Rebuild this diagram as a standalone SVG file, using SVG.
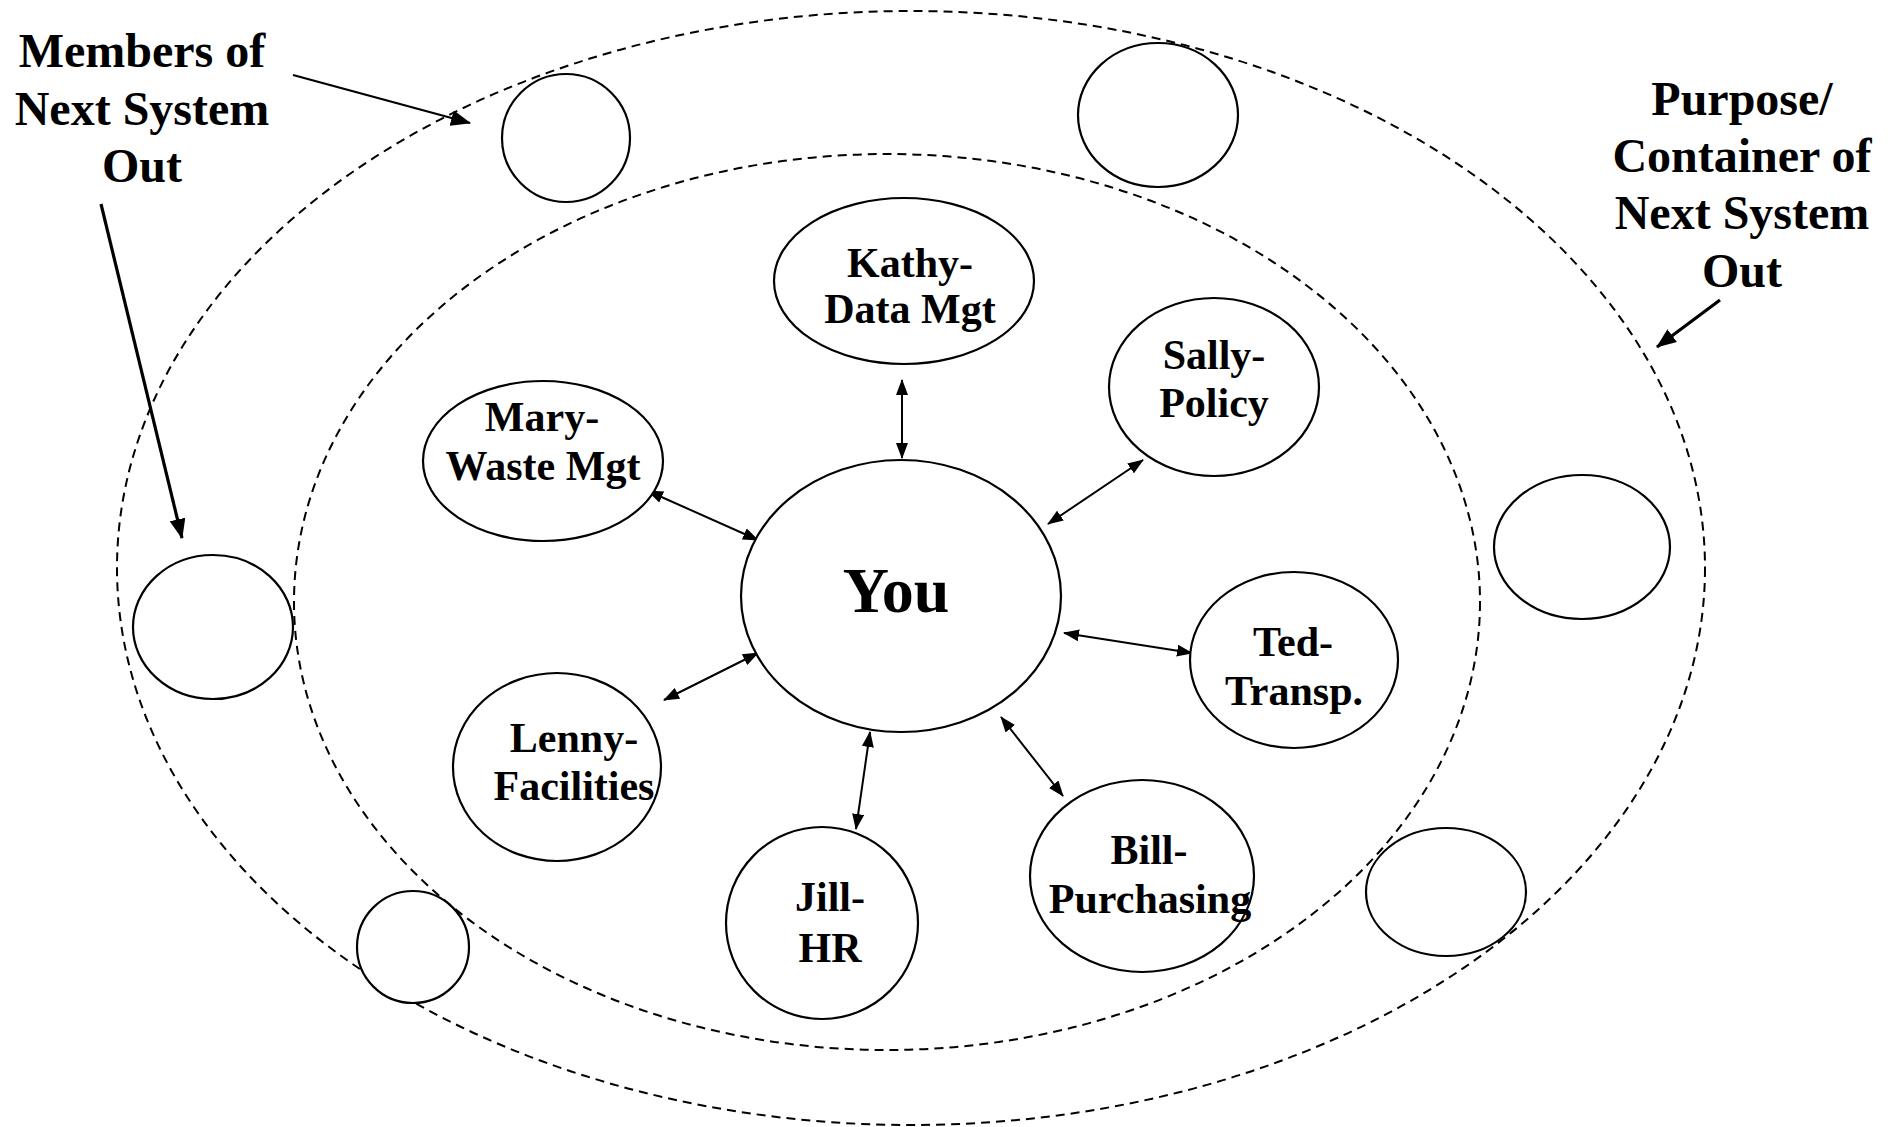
<svg xmlns="http://www.w3.org/2000/svg" width="1896" height="1127" viewBox="0 0 1896 1127">
<style>
.dash{fill:none;stroke:#000;stroke-width:2;stroke-dasharray:9 6}
.node{fill:#fff;stroke:#000;stroke-width:2.2}
.lbl{font-family:"Liberation Serif","Times New Roman",serif;font-weight:bold;font-size:42px;text-anchor:middle;fill:#000}
.big{font-size:48px}
.you{font-size:64px}
.conn{stroke:#000;stroke-width:2;fill:none;marker-start:url(#ah);marker-end:url(#ah)}
.note{stroke:#000;fill:none;marker-end:url(#ah2)}
</style>
<defs>
<marker id="ah" markerUnits="userSpaceOnUse" viewBox="0 0 16 12" refX="15" refY="6" markerWidth="16" markerHeight="12" orient="auto-start-reverse"><path d="M0,0 L16,6 L0,12 z" fill="#000"/></marker>
<marker id="ah2" markerUnits="userSpaceOnUse" viewBox="0 0 20 16" refX="19" refY="8" markerWidth="20" markerHeight="16" orient="auto"><path d="M0,0 L20,8 L0,16 z" fill="#000"/></marker>
</defs>
<rect width="1896" height="1127" fill="#fff"/>
<g id="boundaries">
<ellipse class="dash" cx="911" cy="568" rx="794" ry="557"/>
<ellipse class="dash" cx="887" cy="602" rx="593" ry="448"/>
</g>
<g id="outer-members">
<ellipse id="m1" class="node" cx="566" cy="138" rx="64" ry="64"/>
<ellipse id="m2" class="node" cx="1158" cy="115" rx="80" ry="72"/>
<ellipse id="m3" class="node" cx="1582" cy="547" rx="88" ry="72"/>
<ellipse id="m4" class="node" cx="1446" cy="892" rx="80" ry="64"/>
<ellipse id="m5" class="node" cx="213" cy="627" rx="80" ry="72"/>
<ellipse id="m6" class="node" cx="413" cy="947" rx="56" ry="56"/>
</g>
<g id="connectors">
<line class="conn" x1="902" y1="380" x2="902" y2="458"/>
<line class="conn" x1="648" y1="491" x2="758" y2="540"/>
<line class="conn" x1="1143" y1="460" x2="1048" y2="524"/>
<line class="conn" x1="1064" y1="633" x2="1192" y2="653"/>
<line class="conn" x1="758" y1="653" x2="664" y2="700"/>
<line class="conn" x1="870" y1="732" x2="856" y2="829"/>
<line class="conn" x1="1001" y1="717" x2="1063" y2="796"/>
<line class="note" stroke-width="2.2" x1="293" y1="75" x2="470" y2="123"/>
<line class="note" stroke-width="3.2" x1="101" y1="204" x2="182" y2="538"/>
<line class="note" stroke-width="3.2" x1="1720" y1="300" x2="1657" y2="347"/>
</g>
<g id="you">
<ellipse class="node" cx="901" cy="596" rx="160" ry="136"/>
<text class="lbl you" x="896" y="612">You</text>
</g>
<g id="kathy">
<ellipse class="node" cx="904" cy="281" rx="130" ry="83"/>
<text class="lbl" x="910" y="277">Kathy-</text>
<text class="lbl" x="910" y="323">Data Mgt</text>
</g>
<g id="sally">
<ellipse class="node" cx="1214" cy="387" rx="105" ry="89"/>
<text class="lbl" x="1214" y="369">Sally-</text>
<text class="lbl" x="1214" y="417">Policy</text>
</g>
<g id="mary">
<ellipse class="node" cx="543" cy="461" rx="120" ry="80"/>
<text class="lbl" x="542" y="431">Mary-</text>
<text class="lbl" x="543" y="480">Waste Mgt</text>
</g>
<g id="ted">
<ellipse class="node" cx="1294" cy="660" rx="104" ry="88"/>
<text class="lbl" x="1293" y="656">Ted-</text>
<text class="lbl" x="1294" y="705">Transp.</text>
</g>
<g id="lenny">
<ellipse class="node" cx="557" cy="767" rx="104" ry="94"/>
<text class="lbl" x="574" y="752">Lenny-</text>
<text class="lbl" x="574" y="800">Facilities</text>
</g>
<g id="jill">
<ellipse class="node" cx="822" cy="923" rx="96" ry="96"/>
<text class="lbl" x="830" y="911">Jill-</text>
<text class="lbl" x="830" y="962">HR</text>
</g>
<g id="bill">
<ellipse class="node" cx="1142" cy="876" rx="112" ry="96"/>
<text class="lbl" x="1149" y="864">Bill-</text>
<text class="lbl" x="1150" y="913">Purchasing</text>
</g>
<g id="annotations">
<text class="lbl big" x="142" y="67">Members of</text>
<text class="lbl big" x="142" y="125">Next System</text>
<text class="lbl big" x="142" y="182">Out</text>
<text class="lbl big" x="1742" y="115">Purpose/</text>
<text class="lbl big" x="1742" y="172">Container of</text>
<text class="lbl big" x="1742" y="229">Next System</text>
<text class="lbl big" x="1742" y="287">Out</text>
</g>
</svg>
